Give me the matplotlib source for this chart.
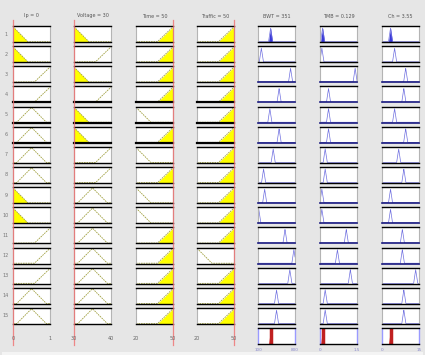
import numpy as np
import matplotlib
matplotlib.use('Agg')
import matplotlib.pyplot as plt

# membership function type of each rule for the four inputs
# 'L' = falling ramp, 'R' = rising ramp, 'T' = triangle
ip_mf = ['L', 'L', 'R', 'R', 'T', 'T', 'T', 'T', 'L', 'L', 'R', 'R', 'R', 'T', 'T']
voltage_mf = ['L', 'R', 'L', 'R', 'L', 'L', 'R', 'R', 'T', 'T', 'T', 'T', 'T', 'T', 'T']
time_mf = ['R', 'R', 'R', 'R', 'L', 'R', 'L', 'R', 'L', 'L', 'R', 'R', 'R', 'R', 'R']
traffic_mf = ['R', 'R', 'R', 'R', 'R', 'R', 'R', 'R', 'R', 'R', 'R', 'L', 'R', 'R', 'R']

input_names = ['Ip', 'Voltage', 'Time', 'Traffic']
input_ranges = [(0, 1), (30, 40), (20, 50), (20, 50)]
input_values = [0, 30, 50, 50]
input_ticks = [['0', '1'], ['30', '40'], ['20', '50'], ['20', '50']]

# peak of each rule's output triangle (fraction of the output range)
bwt_peak = [0.34, 0.09, 0.88, 0.57, 0.32, 0.57, 0.41, 0.15, 0.18, 0.02, 0.73, 0.97, 0.86, 0.50, 0.50]
tmb_peak = [0.07, 0.05, 0.95, 0.23, 0.23, 0.23, 0.14, 0.14, 0.05, 0.05, 0.71, 0.47, 0.82, 0.14, 0.14]
ch_peak = [0.23, 0.34, 0.64, 0.59, 0.34, 0.64, 0.45, 0.59, 0.23, 0.23, 0.55, 0.55, 0.91, 0.59, 0.59]

output_titles = ['BWT = 351', 'TMB = 0.129', 'Ch = 3.55']
output_ticks = [['100', '800'], ['0', '1.5'], ['0', '15']]

# rows whose output baseline is drawn dark blue
navy_rows = [3, 4, 5, 6, 9, 10, 11, 12]
thick_rows = [4, 5, 6]

W, H = 425, 355
BG = '#e6e6e6'
n_rules = len(ip_mf)


def mf_shape(kind, t):
    if kind == 'L':
        return np.clip(1 - t / 0.4, 0, 1)
    if kind == 'R':
        return np.clip((t - 0.58) / 0.42, 0, 1)
    return np.clip(1 - np.abs(t - 0.5) / 0.4, 0, 1)


def out_shape(peak, t, half=0.055):
    return np.clip(1 - np.abs(t - peak) / half, 0, 1) * 0.92


def px_axes(fig, x0, y0, w, h):
    return fig.add_axes([x0 / W, 1 - (y0 + h) / H, w / W, h / H])


def style_box(ax, bottom_color='black', bottom_lw=1.0):
    ax.set_xlim(0, 1)
    ax.set_ylim(-0.02, 1.05)
    ax.set_xticks([])
    ax.set_yticks([])
    ax.set_facecolor('white')
    ax.spines['top'].set_color('black')
    ax.spines['top'].set_linewidth(1.0)
    ax.spines['bottom'].set_color(bottom_color)
    ax.spines['bottom'].set_linewidth(bottom_lw)
    for s in ['left', 'right']:
        ax.spines[s].set_color('#b4b4b4')
        ax.spines[s].set_linewidth(0.8)


fig = plt.figure(figsize=(W / 100, H / 100), dpi=100, facecolor=BG)

in_x = [13, 74, 136, 197]
out_x = [258, 320, 382]
box_w = 37
box_h = 16
row_top = 26
row_step = 20.14

t = np.linspace(0, 1, 400)
all_mf = [ip_mf, voltage_mf, time_mf, traffic_mf]
peaks = [bwt_peak, tmb_peak, ch_peak]

# degree of each input in each rule
input_frac = [(v - lo) / (hi - lo) for v, (lo, hi) in zip(input_values, input_ranges)]
firing = []
for r in range(n_rules):
    mus = [float(mf_shape(all_mf[c][r], np.array(input_frac[c]))) for c in range(4)]
    firing.append(min(mus))

for r in range(n_rules):
    y0 = row_top + r * row_step
    fig.text(6 / W, 1 - (y0 + box_h / 2) / H, str(r + 1), fontsize=3.5,
             color='#777777', ha='center', va='center')
    lw_b = 1.6 if (r + 1) in thick_rows else 1.0
    for c in range(4):
        ax = px_axes(fig, in_x[c], y0, box_w, box_h)
        style_box(ax, bottom_lw=lw_b)
        y = mf_shape(all_mf[c][r], t)
        mu = float(mf_shape(all_mf[c][r], np.array(input_frac[c])))
        if mu > 0:
            ax.fill_between(t, 0, np.minimum(y, mu), color='#ffff00', lw=0)
        ax.plot(t, y, color='#a0a040', lw=0.6, ls=(0, (2, 1)))
    for c in range(3):
        ax = px_axes(fig, out_x[c], y0, box_w, box_h)
        if (r + 1) in navy_rows:
            style_box(ax, bottom_color='#1a1a80', bottom_lw=1.2)
        else:
            style_box(ax)
        y = out_shape(peaks[c][r], t)
        if firing[r] > 0:
            ax.fill_between(t, 0, np.minimum(y, firing[r] * 0.92), color='#3a3ad8', lw=0)
        ax.plot(t, y, color='#7070e0', lw=0.5)

# aggregated output row
agg_y = 328
for c in range(3):
    ax = px_axes(fig, out_x[c], agg_y, box_w, box_h)
    style_box(ax)
    for s in ['left', 'right']:
        ax.spines[s].set_color('#9a9aff')
        ax.spines[s].set_linewidth(1.0)
    agg = np.zeros_like(t)
    for r in range(n_rules):
        agg = np.maximum(agg, np.minimum(out_shape(peaks[c][r], t), firing[r] * 0.92))
    ax.fill_between(t, 0, agg, color='#e04040', lw=0)
    cog = np.sum(t * agg) / np.sum(agg)
    ax.axvline(cog, color='#c02020', lw=2.5, ymax=0.9)
    fig.text((out_x[c]) / W, 1 - 350 / H, output_ticks[c][0], fontsize=3,
             color='#8888cc', ha='center', va='center')
    fig.text((out_x[c] + box_w) / W, 1 - 350 / H, output_ticks[c][1], fontsize=3,
             color='#8888cc', ha='center', va='center')
    fig.text((out_x[c] + box_w / 2) / W, 1 - 16 / H, output_titles[c], fontsize=3.5,
             color='#555555', ha='center', va='center')

# input titles, ticks and red value lines
for c in range(4):
    fig.text((in_x[c] + box_w / 2) / W, 1 - 16 / H,
             '%s = %g' % (input_names[c], input_values[c]), fontsize=3.5,
             color='#555555', ha='center', va='center')
    fig.text(in_x[c] / W, 1 - 338 / H, input_ticks[c][0], fontsize=3.5,
             color='#666666', ha='center', va='center')
    fig.text((in_x[c] + box_w) / W, 1 - 338 / H, input_ticks[c][1], fontsize=3.5,
             color='#666666', ha='center', va='center')
    xr = (in_x[c] + input_frac[c] * box_w) / W
    fig.add_artist(plt.Line2D([xr, xr], [1 - 20 / H, 1 - 345 / H],
                              color='#f07070', lw=0.9, alpha=0.8))

# lower panel band
fig.add_artist(plt.Rectangle((2 / W, 0), 1 - 4 / W, 1 - 352 / H,
                             color='#f4f4f4', lw=0))

fig.savefig('out.png', dpi=100, facecolor=BG)
